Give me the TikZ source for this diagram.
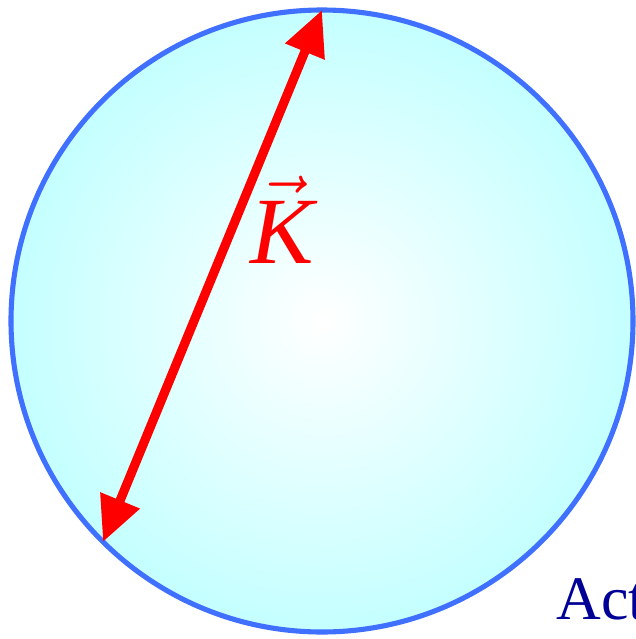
\documentclass[tikz,border=0pt]{standalone}
\usepackage{fontspec}
\setmainfont{Liberation Serif}
\usetikzlibrary{arrows.meta}

\definecolor{rimblue}{RGB}{64,112,255}
\definecolor{skycyan}{RGB}{196,255,255}
\definecolor{waveRed}{RGB}{255,0,0}
\definecolor{labelnavy}{RGB}{0,0,150}

\begin{document}
\begin{tikzpicture}[
  x=0.01cm, y=-0.01cm,
  sphere/.style={draw=rimblue, line width=1.45pt, inner color=white, outer color=skycyan},
  vecarr/.style={{Triangle[length=12.8pt, width=11.5pt]}-{Triangle[length=12.8pt, width=11.5pt]},
                 draw=waveRed, line width=2.6pt},
  veclabel/.style={text=waveRed, font=\fontsize{27}{30}\selectfont, anchor=base, inner sep=0pt},
  corner/.style={text=labelnavy, font=\fontsize{17.6}{20}\selectfont, anchor=base west, inner sep=0pt}
]
\useasboundingbox (0,0) rectangle (636,639);

% Ewald sphere
\shade[sphere] (322,321) circle[radius=311];
\coordinate (top) at (322,10);
\coordinate (bot) at (103,542);

% scattering vector
\draw[vecarr] (bot) -- (top);
\node[veclabel] (kvec) at (282,263) {$\vec{\textit{K}}$};

\node[corner] (act) at (556,619) {Act};
\end{tikzpicture}
\end{document}
